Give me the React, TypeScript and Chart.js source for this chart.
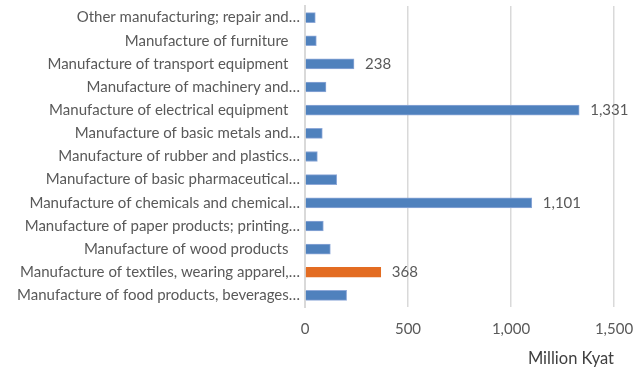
import React, { useEffect, useRef } from "react";
import { Chart, registerables } from "chart.js";

Chart.register(...registerables);

const NB = "\u00A0\u00A0\u00A0";

const categories = [
  "Other manufacturing; repair and…",
  "Manufacture of furniture" + NB,
  "Manufacture of transport equipment" + NB,
  "Manufacture of machinery and…",
  "Manufacture of electrical equipment" + NB,
  "Manufacture of basic metals and…",
  "Manufacture of rubber and plastics…",
  "Manufacture of basic pharmaceutical…",
  "Manufacture of chemicals and chemical…",
  "Manufacture of paper products; printing…",
  "Manufacture of wood products" + NB,
  "Manufacture of textiles, wearing apparel,…",
  "Manufacture of food products, beverages…",
];

const values = [50, 55, 238, 102, 1331, 84, 60, 154, 1101, 89, 123, 368, 202];

const shownLabels: (number | null)[] = [null, null, 238, null, 1331, null, null, null, 1101, null, null, 368, null];

const highlighted = [false, false, false, false, false, false, false, false, false, false, false, true, false];

const xTicks = [0, 500, 1000, 1500];

const FONT = "Lato";

const valueLabelPlugin = {
  id: "valueLabels",
  afterDatasetsDraw(chart: any) {
    const ctx = chart.ctx;
    const meta = chart.getDatasetMeta(0);
    ctx.save();
    ctx.font = `15px ${FONT}`;
    ctx.fillStyle = "#595959";
    ctx.textAlign = "left";
    ctx.textBaseline = "middle";
    meta.data.forEach((bar: any, i: number) => {
      const v = shownLabels[i];
      if (v == null) return;
      ctx.fillText(v.toLocaleString("en-US"), bar.x + 11, bar.y);
    });
    ctx.restore();
  },
};

export default function App() {
  const ref = useRef<HTMLCanvasElement | null>(null);
  useEffect(() => {
    if (!ref.current) return;
    const chart = new Chart(ref.current, {
      type: "bar",
      data: {
        labels: categories,
        datasets: [
          {
            data: values,
            backgroundColor: highlighted.map((h) => (h ? "#E36C22" : "#4F81BD")),
            borderColor: highlighted.map((h) => (h ? "#E36C22" : "#8EA9D8")),
            borderWidth: 1,
            barThickness: 10,
          },
        ],
      },
      options: {
        indexAxis: "y",
        animation: false,
        responsive: true,
        maintainAspectRatio: false,
        layout: { padding: { top: 6, right: 27, left: 0, bottom: 0 } },
        plugins: {
          legend: { display: false },
          tooltip: { enabled: false },
        },
        scales: {
          x: {
            min: 0,
            max: 1500,
            afterBuildTicks: (scale: any) => {
              scale.ticks = xTicks.map((v) => ({ value: v }));
            },
            afterFit: (scale: any) => {
              scale.height = 63;
              scale.paddingLeft = 0;
              scale.paddingRight = 0;
            },
            grid: { color: "#D9D9D9", lineWidth: 1.5, drawTicks: false },
            border: { display: false },
            ticks: {
              color: "#595959",
              font: { family: FONT, size: 15 },
              padding: 13,
              callback: (v: any) => Number(v).toLocaleString("en-US"),
            },
            title: {
              display: true,
              text: "Million Kyat",
              align: "end",
              color: "#404040",
              font: { family: FONT, size: 16.5 },
              padding: { top: 0, bottom: 1 },
            },
          },
          y: {
            afterFit: (scale: any) => {
              scale.width = 305;
              scale.paddingTop = 0;
              scale.paddingBottom = 0;
            },
            grid: { display: false, drawTicks: false },
            border: { display: true, color: "#D9D9D9", width: 2 },
            ticks: {
              color: "#595959",
              font: { family: FONT, size: 15 },
              padding: 5,
              autoSkip: false,
            },
          },
        },
      },
      plugins: [valueLabelPlugin],
    });
    return () => chart.destroy();
  }, []);
  return (
    <div style={{ position: "fixed", left: 0, top: 0, width: 641, height: 370, background: "#fff" }}>
      <canvas ref={ref} />
    </div>
  );
}
